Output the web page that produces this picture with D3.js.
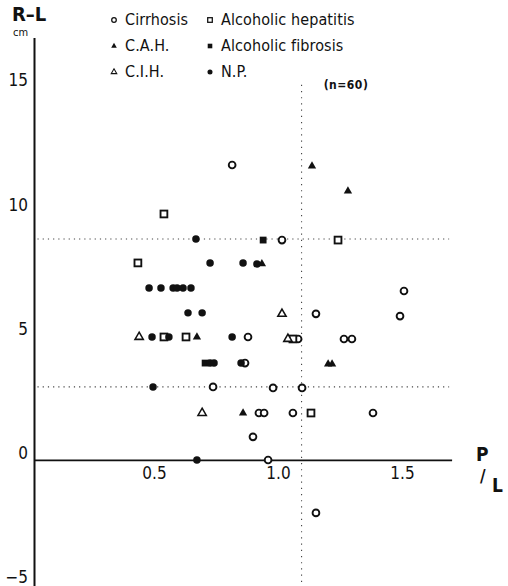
<!DOCTYPE html>
<html>
<head>
<meta charset="utf-8">
<script src="https://cdn.jsdelivr.net/npm/d3@7"></script>
<style>
body { margin: 0; background: #fff; }
svg text { font-family: 'Liberation Sans Narrow', 'DejaVu Sans Condensed', 'Arial Narrow', sans-serif; fill: #111; }
</style>
</head>
<body>
<svg></svg>
<script>
// [P/L, R-L cm]
const cirrhosis = [[0.815,11.87],[1.016,8.85],[1.153,5.88],[1.508,6.80],[1.492,5.79],[0.879,4.95],
    [1.081,4.87],[1.266,4.87],[1.298,4.87],[0.867,3.90],[0.738,2.94],[0.980,2.90],[1.097,2.90],
    [0.923,1.89],[0.944,1.89],[1.060,1.89],[1.383,1.89],[0.899,0.93],[0.960,0],[1.153,-2.13]];
const cah = [[1.137,11.83],[1.282,10.82],[0.935,7.89],[0.673,4.95],[1.202,3.86],[1.218,3.86],[0.859,1.89]];
const cih = [[1.016,5.88],[0.440,4.95],[1.040,4.87],[0.694,1.89]];
const alcHepatitis = [[0.540,9.90],[1.242,8.85],[0.435,7.93],[0.540,4.95],[0.629,4.95],[1.060,4.87],[1.133,1.89]];
const alcFibrosis = [[0.940,8.85],[0.706,3.90]];
const np = [[0.669,8.89],[0.726,7.93],[0.859,7.93],[0.915,7.89],
    [0.480,6.92],[0.528,6.92],[0.577,6.92],[0.593,6.92],[0.617,6.92],[0.649,6.92],
    [0.637,5.92],[0.694,5.92],[0.492,4.95],[0.560,4.95],[0.815,4.95],
    [0.726,3.90],[0.742,3.90],[0.851,3.90],[0.496,2.94],[0.673,0]];

const xTicks = [0.5, 1.0, 1.5];
const yTicks = [15, 10, 5, 0, -5];
const hLines = [8.89, 2.94];
const vLine = 1.095;

const groups = [
    {name: "Cirrhosis", data: cirrhosis, shape: "circle", filled: false},
    {name: "Alcoholic hepatitis", data: alcHepatitis, shape: "square", filled: false},
    {name: "C.A.H.", data: cah, shape: "triangle", filled: true},
    {name: "Alcoholic fibrosis", data: alcFibrosis, shape: "square", filled: true},
    {name: "C.I.H.", data: cih, shape: "triangle", filled: false},
    {name: "N.P.", data: np, shape: "circle", filled: true}
];

const width = 508, height = 586;
const svg = d3.select("svg").attr("width", width).attr("height", height);

const x = d3.scaleLinear().domain([0.016, 1.7]).range([34, 451.6]);
const y = d3.scaleLinear().domain([-5.1, 17]).range([586.7, 37.55]);

// reference lines
svg.append("g").selectAll("line.h")
    .data(hLines)
    .enter().append("line")
    .attr("x1", x(0.03)).attr("x2", x(1.69))
    .attr("y1", d => y(d)).attr("y2", d => y(d))
    .attr("stroke", "#444").attr("stroke-width", 1.1)
    .attr("stroke-dasharray", "1.2,4");

svg.append("line")
    .attr("x1", x(vLine)).attr("x2", x(vLine))
    .attr("y1", y(15.1)).attr("y2", height)
    .attr("stroke", "#444").attr("stroke-width", 1.1)
    .attr("stroke-dasharray", "1.2,5");

// axes
let yAxis = svg.append("g")
    .attr("transform", `translate(${x(0.016)},0)`)
    .call(d3.axisLeft(y).tickValues(yTicks).tickSize(0).tickSizeOuter(0).tickPadding(6).tickFormat(d3.format("d")));
yAxis.select(".domain").attr("stroke", "#111").attr("stroke-width", 2);
yAxis.selectAll("text").style("font-size", "17px").attr("dy", "-0.08em");

let xAxis = svg.append("g")
    .attr("transform", `translate(0,${y(0)})`)
    .call(d3.axisBottom(x).tickValues(xTicks).tickSize(0).tickSizeOuter(0).tickPadding(7).tickFormat(d3.format(".1f")));
xAxis.select(".domain").attr("stroke", "#111").attr("stroke-width", 1.8);
xAxis.selectAll("text").style("font-size", "17px");

function drawMark(sel, shape, filled, s) {
    if (shape === "circle") {
        sel.append("circle")
            .attr("r", filled ? s * 1.1 : s)
            .attr("fill", filled ? "#111" : "#fff")
            .attr("stroke", "#111").attr("stroke-width", filled ? 0 : s * 0.55);
    } else if (shape === "square") {
        sel.append("rect")
            .attr("x", -s).attr("y", -s).attr("width", 2 * s).attr("height", 2 * s)
            .attr("fill", filled ? "#111" : "#fff")
            .attr("stroke", "#111").attr("stroke-width", filled ? 0 : s * 0.55);
    } else {
        sel.append("path")
            .attr("d", d3.symbol(d3.symbolTriangle, s * s * 2.6)())
            .attr("fill", filled ? "#111" : "#fff")
            .attr("stroke", "#111").attr("stroke-width", filled ? 0 : s * 0.45);
    }
}

// points
groups.forEach(g => {
    svg.append("g").selectAll("g")
        .data(g.data)
        .enter().append("g")
        .attr("transform", d => `translate(${x(d[0])},${y(d[1])})`)
        .each(function () { drawMark(d3.select(this), g.shape, g.filled, 3.4); });
});

// legend
const legend = svg.append("g");
groups.forEach((g, i) => {
    let col = i % 2, row = Math.floor(i / 2);
    let item = legend.append("g")
        .attr("transform", `translate(${col ? 210 : 114},${25 + row * 26})`);
    item.append("g").attr("transform", "translate(0,-5)")
        .each(function () { drawMark(d3.select(this), g.shape, g.filled, 2.3); });
    item.append("text")
        .attr("x", 11)
        .attr("y", 0)
        .style("font-size", "16px")
        .style("letter-spacing", "0.1px")
        .text(g.name);
});

// titles
svg.append("text").attr("x", 12).attr("y", 21)
    .style("font-size", "20px").style("font-weight", "bold").text("R–L");
svg.append("text").attr("x", 13).attr("y", 36)
    .style("font-size", "11px").text("cm");
svg.append("text").attr("x", 346).attr("y", 89).attr("text-anchor", "middle")
    .style("font-size", "12px").style("font-weight", "bold").style("letter-spacing", "0.5px")
    .text("(n=60)");
svg.append("text").attr("x", 476).attr("y", 461)
    .style("font-size", "19px").style("font-weight", "bold").text("P");
svg.append("text").attr("x", 480).attr("y", 482)
    .style("font-size", "17px").style("font-weight", "bold").text("/");
svg.append("text").attr("x", 492).attr("y", 492)
    .style("font-size", "19px").style("font-weight", "bold").text("L");
</script>
</body>
</html>
